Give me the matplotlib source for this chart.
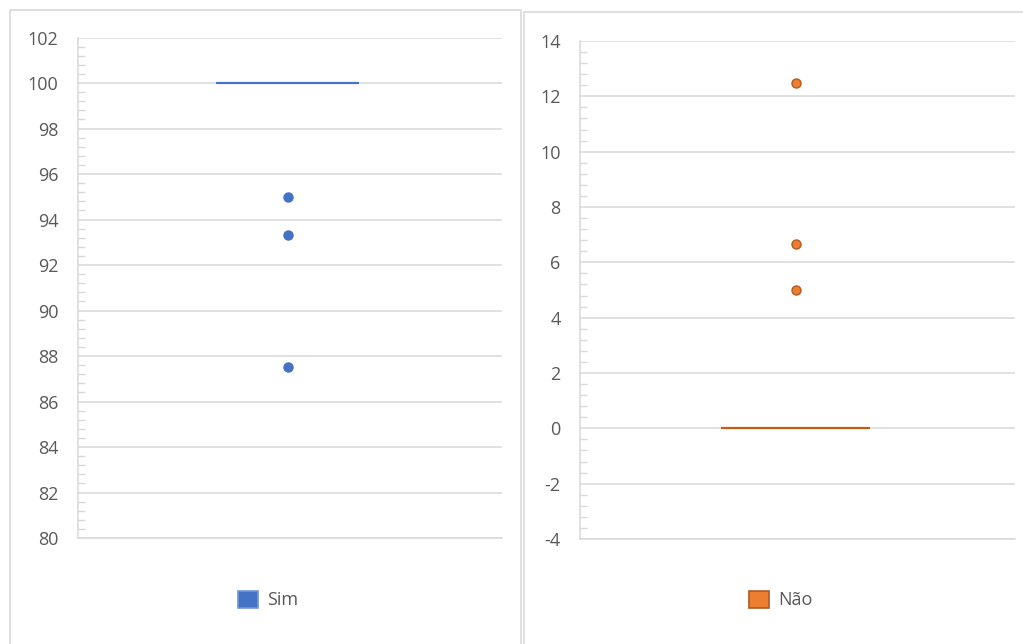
import matplotlib
matplotlib.use("Agg")
import matplotlib.pyplot as plt
from matplotlib.patches import Rectangle, Patch
from matplotlib.ticker import MultipleLocator

# Data
sim_label = "Sim"
sim_median = 100
sim_q1, sim_q3 = 100, 100
sim_whislo, sim_whishi = 100, 100
sim_outliers = [95, 93.33, 87.5]

nao_label = "Não"
nao_median = 0
nao_q1, nao_q3 = 0, 0
nao_whislo, nao_whishi = 0, 0
nao_outliers = [12.5, 6.67, 5]

sim_ylim = (80, 102)
nao_ylim = (-4, 14)

W, H = 1023, 644
fig = plt.figure(figsize=(W / 100, H / 100), dpi=100)
fig.patch.set_facecolor("white")
plt.rcParams['font.family'] = ['Open Sans', 'DejaVu Sans']
plt.rcParams['axes.unicode_minus'] = False

grid_c = "#d9d9d9"
text_c = "#595959"

def fx(px):
    return px / W

def fy(py):
    return 1 - py / H

# panel frames
fig.add_artist(Rectangle((fx(10), -0.1), fx(521) - fx(10), fy(10) + 0.1,
                         transform=fig.transFigure, fill=False,
                         edgecolor=grid_c, lw=1.2))
fig.add_artist(Rectangle((fx(524), -0.1), fx(1030) - fx(524), fy(12) + 0.1,
                         transform=fig.transFigure, fill=False,
                         edgecolor=grid_c, lw=1.2))

def make_panel(rect_px, ylim, stats, color, edge, fcolor, fedge, width, pos,
               legend_label, legend_xy, legend_face, legend_edge):
    x0, y0, x1, y1 = rect_px
    ax = fig.add_axes([fx(x0), fy(y1), fx(x1) - fx(x0), fy(y0) - fy(y1)])
    ax.set_xlim(0, 1)
    ax.set_ylim(*ylim)
    ax.yaxis.set_major_locator(MultipleLocator(2))
    ax.yaxis.set_minor_locator(MultipleLocator(0.4))
    ax.grid(axis='y', which='major', color=grid_c, lw=1.1)
    ax.set_axisbelow(True)
    for s in ['top', 'right']:
        ax.spines[s].set_visible(False)
    ax.spines['left'].set_color(grid_c)
    ax.spines['left'].set_linewidth(1.1)
    ax.spines['bottom'].set_color(grid_c)
    ax.spines['bottom'].set_linewidth(1.1)
    ax.set_xticks([])
    ax.tick_params(axis='y', which='both', direction='in', color=grid_c,
                   labelcolor=text_c, labelsize=13)
    ax.tick_params(axis='y', which='major', length=0, pad=14)
    ax.tick_params(axis='y', which='minor', length=5, width=1)
    ax.bxp([stats], positions=[pos], widths=width, showfliers=True,
           boxprops=dict(color=color, lw=1.3),
           medianprops=dict(color=color, lw=1.6),
           whiskerprops=dict(color=color, lw=1.3),
           capprops=dict(color=color, lw=0),
           flierprops=dict(marker='o', markersize=6.5, markerfacecolor=fcolor,
                           markeredgecolor=fedge, linestyle='none'),
           manage_ticks=False)
    fig.legend(handles=[Patch(facecolor=legend_face, edgecolor=legend_edge, lw=1.2,
                              label=legend_label)],
               loc='center', bbox_to_anchor=(fx(legend_xy[0]), fy(legend_xy[1])),
               frameon=False, fontsize=13, labelcolor=text_c,
               handlelength=1.1, handleheight=1.1, handletextpad=0.5)
    return ax

sim_stats = dict(med=sim_median, q1=sim_q1, q3=sim_q3, whislo=sim_whislo,
                 whishi=sim_whishi, fliers=sim_outliers, label=sim_label)
nao_stats = dict(med=nao_median, q1=nao_q1, q3=nao_q3, whislo=nao_whislo,
                 whishi=nao_whishi, fliers=nao_outliers, label=nao_label)

make_panel((78, 37.5, 502, 538), sim_ylim, sim_stats, "#4472C4", "#4472C4",
           "#4472C4", "#4472C4", 0.333, 0.495, sim_label, (268, 600),
           "#4472C4", "#6F95D6")
make_panel((580, 41, 1015, 539), nao_ylim, nao_stats, "#C55A11", "#C55A11",
           "#ED7D31", "#B55A1E", 0.338, 0.496, nao_label, (781, 600),
           "#ED7D31", "#AE5A21")

fig.savefig("out.png", dpi=100, facecolor="white")
